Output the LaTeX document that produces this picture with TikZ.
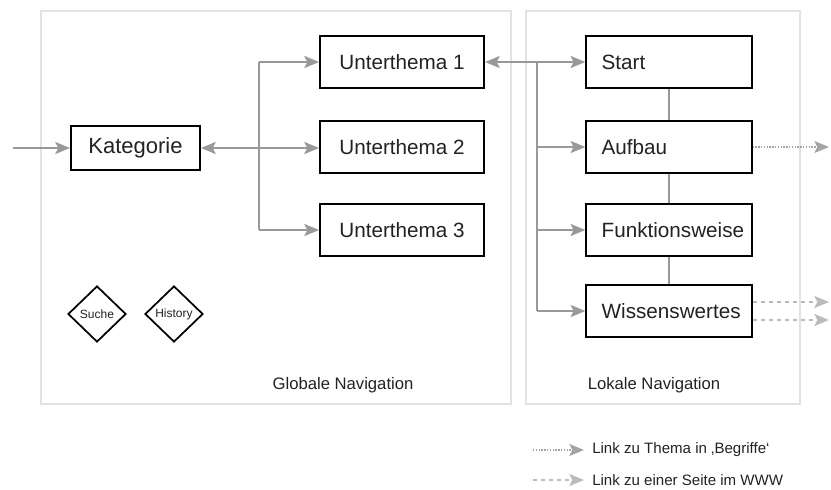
\documentclass[tikz,border=0pt]{standalone}
\usepackage{fontspec}
\setmainfont{Liberation Sans}
\usetikzlibrary{arrows.meta,shapes.geometric}
\definecolor{txt}{HTML}{222222}
\definecolor{conn}{HTML}{999999}
\definecolor{dotc}{HTML}{A4A4A4}
\definecolor{lite}{HTML}{BBBBBB}
\definecolor{panel}{HTML}{E2E2E2}
\tikzset{
  box/.style={draw=black,line width=1.5pt,minimum width=123pt,minimum height=38.5pt,inner sep=0pt,text=txt,font=\fontsize{15.5}{18}\selectfont},
  lbox/.style={box,text width=101pt,align=left,inner xsep=11.5pt},
  dia/.style={draw=black,line width=1.3pt,diamond,minimum width=43.5pt,minimum height=42pt,inner sep=0pt,text=txt,font=\fontsize{9}{10}\selectfont},
  conn/.style={draw=conn,line width=1.5pt},
  ah/.tip={Stealth[length=11pt,width=9pt,inset=2.2pt]},
  tip/.style={-ah},
  tips/.style={ah-ah},
  dotl/.style={draw=dotc,line width=1pt,dash pattern=on 1pt off 1.1pt},
  dashl/.style={draw=lite,line width=1.4pt,dash pattern=on 3pt off 3pt},
  panelbox/.style={draw=panel,line width=1.5pt},
  lbl/.style={text=txt,font=\fontsize{12.5}{14}\selectfont,inner sep=0pt},
  leg/.style={text=txt,font=\fontsize{11.3}{13}\selectfont,inner sep=0pt,anchor=west},
}
\begin{document}
\begin{tikzpicture}[x=0.75pt,y=-0.75pt]
\useasboundingbox (0,0) rectangle (831,489);
% panels
\draw[panelbox] (40.5,10.5) rectangle (511,403.5);
\draw[panelbox] (526,10.5) rectangle (800,403.5);
\node[lbl] (glab) at (343,385) {Globale Navigation};
\node[lbl] (llab) at (654,385) {Lokale Navigation};
% global nodes
\node[box,minimum width=96.75pt,minimum height=33pt,font=\fontsize{16.5}{19}\selectfont] (kat) at (135.5,148) {Kategorie};
\node[box] (u1) at (402,62) {Unterthema 1};
\node[box] (u2) at (402,147) {Unterthema 2};
\node[box] (u3) at (402,230) {Unterthema 3};
\node[dia] (suche) at (97,314) {Suche};
\node[dia] (hist) at (174,314) {History};
% local nodes
\node[lbox] (start) at (669,62) {Start};
\node[lbox] (aufbau) at (669,147) {Aufbau};
\node[lbox] (funk) at (669,230) {Funktionsweise};
\node[lbox] (wiss) at (669,311) {Wissenswertes};
% coordinates
\coordinate (in) at (13,148);
\coordinate (g1) at (259,62);
\coordinate (g3) at (259,230);
\coordinate (l1) at (537,62);
\coordinate (l4) at (537,311);
\coordinate (aout) at (829,147);
\coordinate (wout1) at (829,302);
\coordinate (wout2) at (829,320);
% global connectors
\draw[conn,tip] (in) -- (kat.west);
\draw[conn,tips] (kat.east) -- (u2.west |- kat.east);
\draw[conn] (g1) -- (g3);
\draw[conn,tip] (g1) -- (u1.west);
\draw[conn,tip] (g3) -- (u3.west);
% local connectors
\draw[conn,tips] (u1.east) -- (start.west);
\draw[conn] (l1) -- (l4);
\draw[conn,tip] (l1 |- aufbau) -- (aufbau.west);
\draw[conn,tip] (l1 |- funk) -- (funk.west);
\draw[conn,tip] (l4) -- (wiss.west);
\draw[conn] (start) -- (aufbau);
\draw[conn] (aufbau) -- (funk);
\draw[conn] (funk) -- (wiss);
% outgoing links
\draw[dotl,tip] (aufbau.east) -- (aout);
\draw[dashl,tip] (wiss.east |- wout1) -- (wout1);
\draw[dashl,tip] (wiss.east |- wout2) -- (wout2);
% legend
\coordinate (k1a) at (533,450);
\coordinate (k1b) at (584,450);
\coordinate (k2a) at (533,480);
\coordinate (k2b) at (584,480);
\draw[dotl,tip] (k1a) -- (k1b);
\draw[dashl,tip] (k2a) -- (k2b);
\node[leg] (leg1) at (592,450) {Link zu Thema in ‚Begriffe‘};
\node[leg] (leg2) at (592,480) {Link zu einer Seite im WWW};
\end{tikzpicture}
\end{document}
